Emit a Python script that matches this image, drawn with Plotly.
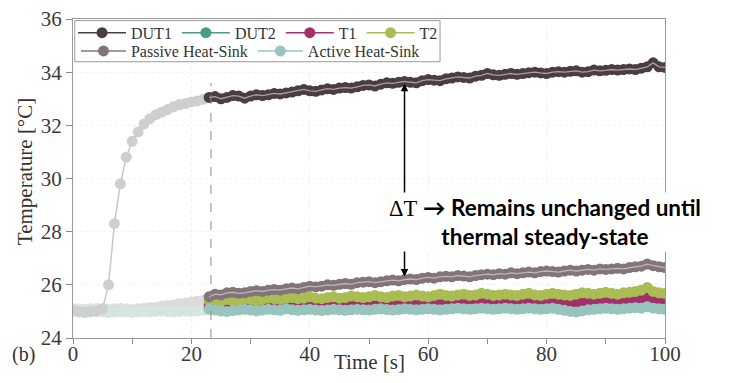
import plotly.graph_objects as go

# ---------------- data ----------------
time_s = list(range(0, 101))

dut1 = [
    25.05, 25.0, 24.98, 25.0, 25.02, 25.1, 26.0, 28.3, 29.8, 30.8,
    31.4, 31.75, 32.05, 32.25, 32.4, 32.5, 32.6, 32.7, 32.78, 32.82,
    32.88, 32.92, 32.98, 33.05, 33.08, 33.0, 33.05, 33.12, 33.1, 33.02,
    33.1, 33.15, 33.12, 33.15, 33.2, 33.18, 33.22, 33.25, 33.3, 33.35,
    33.3, 33.28, 33.33, 33.38, 33.35, 33.4, 33.42, 33.4, 33.45, 33.5,
    33.52, 33.48, 33.55, 33.6, 33.58, 33.62, 33.65, 33.62, 33.6, 33.68,
    33.72, 33.7, 33.68, 33.75, 33.78, 33.82, 33.8, 33.78, 33.85, 33.88,
    33.95, 33.9, 33.88, 33.92, 33.95, 33.92, 33.95, 33.98, 34.0, 33.97,
    33.95, 34.0, 34.02, 34.0, 34.03, 34.05, 34.0, 34.02, 34.08, 34.05,
    34.07, 34.1, 34.08, 34.1, 34.12, 34.1, 34.15, 34.2, 34.35, 34.2,
    34.18,
]
dut2 = [
    25.0, 25.02, 25.0, 24.98, 25.0, 25.02, 25.0, 24.98, 25.0, 25.02,
    25.0, 25.03, 25.0, 25.02, 25.05, 25.02, 25.0, 25.03, 25.05, 25.02,
    25.05, 25.08, 25.05, 25.12, 25.1, 25.12, 25.1, 25.08, 25.12, 25.15,
    25.12, 25.1, 25.12, 25.14, 25.12, 25.1, 25.12, 25.15, 25.13, 25.1,
    25.12, 25.15, 25.13, 25.1, 25.12, 25.14, 25.16, 25.13, 25.12, 25.15,
    25.14, 25.12, 25.15, 25.17, 25.14, 25.12, 25.15, 25.16, 25.14, 25.12,
    25.15, 25.17, 25.15, 25.13, 25.15, 25.18, 25.16, 25.14, 25.16, 25.18,
    25.16, 25.14, 25.16, 25.18, 25.15, 25.14, 25.16, 25.18, 25.16, 25.15,
    25.17, 25.18, 25.16, 25.12, 25.1, 25.08, 25.12, 25.15, 25.16, 25.18,
    25.16, 25.15, 25.18, 25.2, 25.18, 25.2, 25.22, 25.28, 25.2, 25.18,
    25.16,
]
t1 = [
    25.02, 25.05, 25.05, 25.08, 25.05, 25.02, 25.05, 25.08, 25.05, 25.02,
    25.05, 25.08, 25.05, 25.1, 25.08, 25.05, 25.08, 25.1, 25.08, 25.12,
    25.1, 25.12, 25.15, 25.22, 25.2, 25.22, 25.18, 25.2, 25.25, 25.22,
    25.2, 25.22, 25.25, 25.22, 25.25, 25.28, 25.25, 25.22, 25.25, 25.28,
    25.3, 25.28, 25.25, 25.28, 25.3, 25.28, 25.3, 25.32, 25.3, 25.28,
    25.32, 25.35, 25.32, 25.3, 25.33, 25.35, 25.32, 25.35, 25.38, 25.35,
    25.33, 25.35, 25.38, 25.35, 25.33, 25.36, 25.38, 25.36, 25.35, 25.38,
    25.4, 25.36, 25.38, 25.4, 25.38, 25.36, 25.38, 25.4, 25.38, 25.35,
    25.38, 25.4, 25.38, 25.36, 25.38, 25.35, 25.38, 25.42, 25.45, 25.43,
    25.42, 25.45, 25.43, 25.42, 25.45, 25.48, 25.52, 25.58, 25.5, 25.48,
    25.45,
]
t2 = [
    25.05, 25.1, 25.08, 25.1, 25.12, 25.1, 25.08, 25.1, 25.12, 25.1,
    25.08, 25.1, 25.12, 25.15, 25.12, 25.1, 25.12, 25.15, 25.18, 25.15,
    25.2, 25.22, 25.2, 25.4, 25.42, 25.38, 25.45, 25.4, 25.42, 25.48,
    25.45, 25.4, 25.45, 25.5, 25.48, 25.45, 25.5, 25.52, 25.48, 25.5,
    25.55, 25.5, 25.48, 25.52, 25.55, 25.5, 25.52, 25.58, 25.55, 25.52,
    25.55, 25.6, 25.55, 25.52, 25.58, 25.6, 25.55, 25.58, 25.62, 25.58,
    25.55, 25.6, 25.65, 25.6, 25.58, 25.62, 25.65, 25.6, 25.62, 25.68,
    25.65, 25.6, 25.62, 25.65, 25.62, 25.6, 25.65, 25.68, 25.62, 25.6,
    25.65, 25.68, 25.65, 25.62, 25.6, 25.65, 25.7, 25.68, 25.65, 25.68,
    25.72, 25.68, 25.65, 25.7, 25.72, 25.75, 25.8, 25.9, 25.75, 25.7,
    25.68,
]
passive_hs = [
    25.0, 24.98, 25.0, 25.02, 25.0, 25.0, 25.02, 25.05, 25.0, 25.02,
    25.05, 25.08, 25.1, 25.12, 25.15, 25.2, 25.22, 25.25, 25.3, 25.32,
    25.35, 25.38, 25.42, 25.55, 25.65, 25.62, 25.7, 25.72, 25.68, 25.7,
    25.75, 25.78, 25.75, 25.8, 25.82, 25.8, 25.85, 25.88, 25.85, 25.9,
    25.95, 25.92, 25.95, 26.0, 25.98, 26.02, 26.05, 26.02, 26.08, 26.1,
    26.12, 26.08, 26.12, 26.15, 26.18, 26.15, 26.2, 26.22, 26.2, 26.25,
    26.28, 26.25, 26.3, 26.32, 26.3, 26.35, 26.33, 26.3, 26.35, 26.38,
    26.4, 26.38, 26.42, 26.4, 26.45, 26.42, 26.45, 26.48, 26.45, 26.5,
    26.52, 26.5, 26.48, 26.52, 26.55, 26.52, 26.55, 26.58, 26.55, 26.6,
    26.58, 26.6, 26.62, 26.6, 26.65, 26.68, 26.7, 26.78, 26.72, 26.68,
    26.65,
]
active_hs = [
    25.1, 24.98, 24.95, 24.98, 25.0, 24.98, 24.96, 24.98, 25.0, 24.98,
    24.96, 24.98, 25.0, 24.98, 25.0, 25.02, 25.0, 24.98, 25.0, 25.02,
    25.0, 25.02, 25.05, 25.08, 25.05, 25.02, 25.0, 25.03, 25.05, 25.08,
    25.05, 25.02, 25.05, 25.08, 25.06, 25.04, 25.1, 25.06, 25.04, 25.06,
    25.08, 25.05, 25.03, 25.05, 25.08, 25.06, 25.04, 25.06, 25.08, 25.06,
    25.05, 25.08, 25.1, 25.07, 25.05, 25.07, 25.1, 25.08, 25.06, 25.08,
    25.1, 25.08, 25.06, 25.08, 25.1, 25.12, 25.1, 25.08, 25.1, 25.12,
    25.1, 25.08, 25.1, 25.12, 25.1, 25.08, 25.1, 25.12, 25.1, 25.08,
    25.1, 25.12, 25.08, 25.04, 25.0, 24.98, 25.02, 25.06, 25.08, 25.1,
    25.12, 25.1, 25.08, 25.1, 25.12, 25.14, 25.12, 25.18, 25.12, 25.1,
    25.08,
]

series_names = ["DUT1", "DUT2", "T1", "T2", "Passive Heat-Sink", "Active Heat-Sink"]
series_values = [dut1, dut2, t1, t2, passive_hs, active_hs]
series_colors = ["#4a3d43", "#4f9a87", "#a3306b", "#a9bd52", "#837479", "#98c4bd"]
faded_colors = ["#cfcfcf", "#d9e6e3", "#d9e6e3", "#d9e6e3", "#dddada", "#d6e5e2"]
center_line_colors = ["#aaa0a4", None, None, None, "#bdb5b8", None]
legend_ids = ["legend", "legend", "legend", "legend", "legend2", "legend2"]

steady_start = 23          # sample index where steady measurement starts
steady_line_t = 23.3       # dashed marker time
delta_top, delta_bottom, delta_t = 33.56, 26.29, 56

x_ticks = [0, 20, 40, 60, 80, 100]
y_ticks = [24, 26, 28, 30, 32, 34, 36]

SERIF = "Liberation Serif"

fig = go.Figure()

# faded transient part
order_faded = [1, 2, 3, 4, 5, 0]
for i in order_faded:
    vals = series_values[i]
    fig.add_trace(go.Scatter(
        x=time_s[:steady_start + 1], y=vals[:steady_start + 1],
        mode="lines+markers",
        line=dict(color="#c8c8c8" if i == 0 else faded_colors[i], width=1.5),
        marker=dict(color=faded_colors[i], size=11),
        showlegend=False, hoverinfo="skip",
    ))

# steady part
for i, (name, vals) in enumerate(zip(series_names, series_values)):
    fig.add_trace(go.Scatter(
        x=time_s[steady_start:], y=vals[steady_start:],
        mode="lines+markers", name=name,
        line=dict(color=series_colors[i], width=1.5),
        marker=dict(color=series_colors[i], size=11),
        legend=legend_ids[i],
    ))
    if center_line_colors[i]:
        fig.add_trace(go.Scatter(
            x=time_s[steady_start:], y=vals[steady_start:],
            mode="lines", line=dict(color=center_line_colors[i], width=1.3),
            showlegend=False, hoverinfo="skip",
        ))

axis_common = dict(
    showline=True, linecolor="#9a9a9a", linewidth=1, mirror=True,
    ticks="outside", tickcolor="#8a8a8a", automargin=False,
    ticklabeloverflow="allow",
    tickfont=dict(family=SERIF, size=21, color="#3a3a3a"),
    zeroline=False, showgrid=True, gridcolor="#f1f1f1", griddash="dot",
)

legend_common = dict(orientation="h", xanchor="left", yanchor="top",
                     font=dict(family=SERIF, size=16, color="#333"),
                     bgcolor="rgba(0,0,0,0)", borderwidth=0, traceorder="normal")

fig.update_layout(
    width=723, height=367,
    margin=dict(l=65, r=66, t=11, b=37, autoexpand=False),
    paper_bgcolor="white", plot_bgcolor="white",
    xaxis=dict(range=[0, 100], tickvals=x_ticks, ticklen=5, ticklabelstandoff=-8,
               minor=dict(dtick=10, ticks="outside", ticklen=5, tickcolor="#8a8a8a"),
               **axis_common),
    yaxis=dict(range=[24, 36], tickvals=y_ticks, ticklen=6, **axis_common),
    legend=dict(y=1.01, x=0.0, itemwidth=48, **legend_common),
    legend2=dict(y=0.953, x=0.005, itemwidth=45, **legend_common),
    showlegend=True,
)

# legend frame
fig.add_shape(type="rect", xref="paper", yref="paper", x0=0.003, x1=0.62, y0=0.866, y1=0.995,
              line=dict(color="#9a9a9a", width=1), fillcolor="white", layer="above")
# dashed separator
fig.add_shape(type="line", xref="x", yref="y", x0=steady_line_t, x1=steady_line_t,
              y0=24, y1=33.6, line=dict(color="#8a8a8a", width=1, dash="dash"), layer="above")

# delta-T arrow
fig.add_annotation(x=delta_t, y=delta_top, ax=delta_t, ay=delta_bottom, xref="x", yref="y",
                   axref="x", ayref="y", text="", showarrow=True, arrowside="end+start",
                   arrowhead=2, arrowsize=1, arrowwidth=1.5, arrowcolor="black",
                   font=dict(size=1), borderpad=0)

fig.add_annotation(
    x=79.7, y=28.35, xref="x", yref="y", showarrow=False, align="center",
    text=("<span style=\"font-family:'Liberation Serif'\">ΔT</span> "
          "<b>→ Remains unchanged until</b><br><b>thermal steady-state</b>"),
    font=dict(family="Lato", size=22.5, color="black"),
    bgcolor="white",
)

fig.add_annotation(x=0.5, y=-0.075, xref="paper", yref="paper", showarrow=False,
                   text="Time [s]", font=dict(family=SERIF, size=21, color="#333"),
                   xanchor="center", yanchor="middle")
fig.add_annotation(x=-0.081, y=0.52, xref="paper", yref="paper", showarrow=False,
                   text="Temperature [°C]", textangle=-90,
                   xanchor="center", yanchor="middle",
                   font=dict(family=SERIF, size=21, color="#333"))
fig.add_annotation(x=-0.106, y=-0.053, xref="paper", yref="paper", showarrow=False,
                   xanchor="left", yanchor="middle", text="(b)",
                   font=dict(family=SERIF, size=20, color="#333"))

fig.write_html("out.html")
